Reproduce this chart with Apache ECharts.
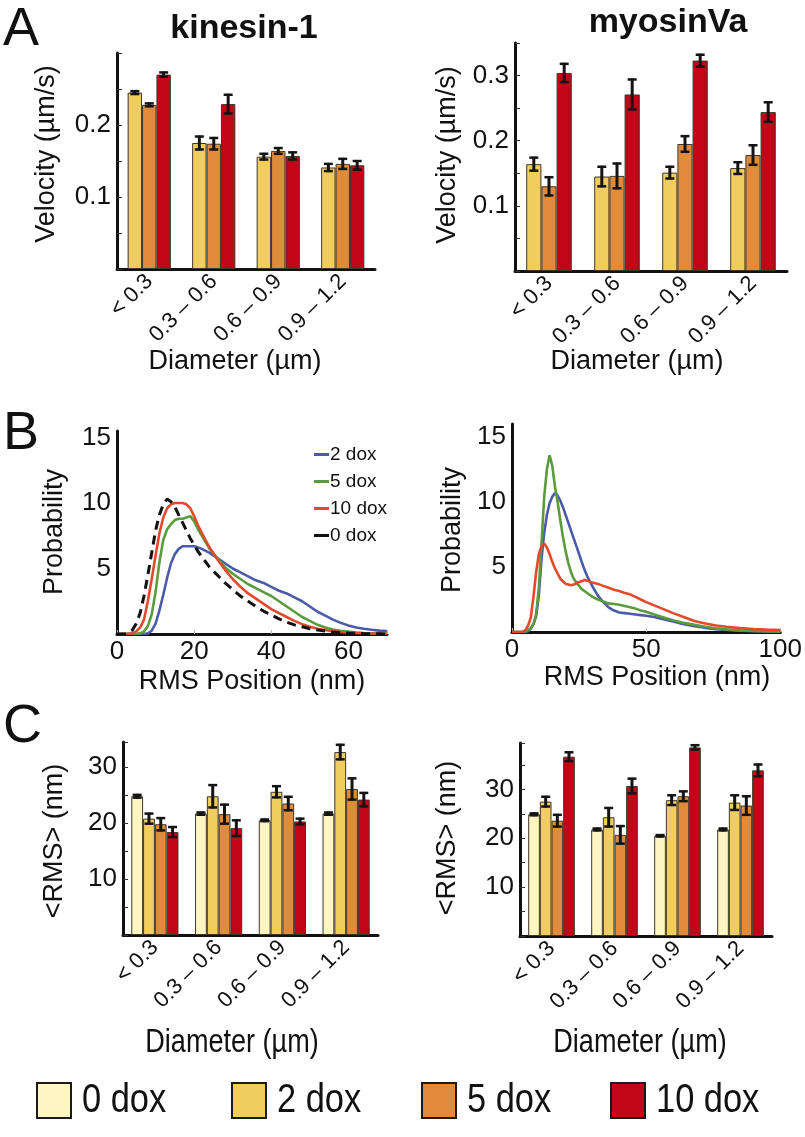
<!DOCTYPE html>
<html>
<head>
<meta charset="utf-8">
<script src="https://cdn.jsdelivr.net/npm/echarts@6/dist/echarts.min.js"></script>
<style>
  html, body { margin: 0; padding: 0; background: #fff; }
  #chart { width: 805px; height: 1137px; }
</style>
</head>
<body>
<div id="chart"></div>
<script>
// diameter bins, shared by panels A and C
var cats = ['< 0.3', '0.3 \u2013 0.6', '0.6 \u2013 0.9', '0.9 \u2013 1.2'];

// A: velocity (um/s), kinesin-1
var kinVel2 = [0.245, 0.175, 0.156, 0.141];
var kinVel5 = [0.228, 0.174, 0.164, 0.146];
var kinVel10 = [0.270, 0.229, 0.157, 0.144];
var kinVelErr2 = [0.002, 0.009, 0.004, 0.005];
var kinVelErr5 = [0.002, 0.008, 0.004, 0.007];
var kinVelErr10 = [0.003, 0.013, 0.005, 0.006];

// A: velocity (um/s), myosinVa
var myoVel2 = [0.164, 0.145, 0.151, 0.158];
var myoVel5 = [0.130, 0.146, 0.195, 0.178];
var myoVel10 = [0.304, 0.271, 0.323, 0.244];
var myoVelErr2 = [0.010, 0.015, 0.009, 0.009];
var myoVelErr5 = [0.014, 0.019, 0.012, 0.015];
var myoVelErr10 = [0.014, 0.023, 0.009, 0.015];

// B: RMS position distributions, kinesin-1
var rmsXL = [0, 2, 4, 5, 6, 7, 8, 9, 10, 11, 12, 13, 14, 15, 16, 17, 18, 19, 20, 21, 22, 24, 26, 28, 30, 32, 34, 36, 38, 40, 42, 44, 46, 48, 50, 52, 54, 56, 58, 60, 62, 64, 66, 68, 70];
var kinProb2 = [0, 0, 0, 0, 0, 0, 0.05, 0.25, 0.8, 1.8, 3.0, 4.3, 5.4, 6.1, 6.5, 6.7, 6.7, 6.7, 6.7, 6.6, 6.5, 6.2, 5.8, 5.4, 5.0, 4.7, 4.4, 4.1, 3.9, 3.6, 3.3, 3.1, 2.8, 2.5, 2.1, 1.7, 1.4, 1.1, 0.85, 0.65, 0.5, 0.4, 0.32, 0.26, 0.22];
var kinProb5 = [0, 0, 0, 0, 0.05, 0.2, 0.6, 1.5, 3.2, 5.5, 7.2, 8.0, 8.4, 8.7, 8.8, 8.8, 8.9, 9.0, 8.6, 8.0, 7.5, 6.5, 5.8, 5.1, 4.6, 4.2, 3.8, 3.5, 3.2, 2.9, 2.5, 2.1, 1.7, 1.3, 1.0, 0.7, 0.5, 0.35, 0.25, 0.18, 0.12, 0.08, 0.05, 0.03, 0.02];
var kinProb10 = [0, 0, 0.05, 0.2, 0.5, 1.1, 2.5, 4.2, 6.0, 7.7, 8.9, 9.6, 9.9, 10.0, 10.0, 10.0, 9.9, 9.6, 9.0, 8.3, 7.7, 6.6, 5.7, 4.9, 4.2, 3.6, 3.1, 2.7, 2.3, 1.9, 1.6, 1.3, 1.0, 0.75, 0.55, 0.4, 0.3, 0.2, 0.15, 0.1, 0.08, 0.06, 0.04, 0.03, 0.02];
var kinProb0 = [0, 0, 0.3, 0.8, 1.6, 2.9, 4.5, 6.2, 7.9, 9.1, 9.9, 10.3, 10.1, 9.7, 9.1, 8.5, 7.9, 7.3, 6.8, 6.3, 5.9, 5.1, 4.5, 3.9, 3.4, 2.9, 2.5, 2.1, 1.75, 1.45, 1.15, 0.9, 0.7, 0.55, 0.4, 0.3, 0.22, 0.15, 0.1, 0.07, 0.05, 0.03, 0.02, 0.01, 0];

// B: RMS position distributions, myosinVa
var rmsXR = [0, 2, 4, 5, 6, 7, 8, 9, 10, 11, 12, 13, 14, 15, 16, 17, 18, 19, 20, 21, 22, 23, 24, 25, 26, 27, 28, 30, 32, 34, 36, 38, 40, 42, 44, 46, 48, 50, 53, 56, 60, 64, 68, 72, 76, 80, 85, 90, 95, 100];
var myoProb2 = [0, 0, 0, 0, 0.05, 0.25, 0.6, 1.2, 2.8, 5.6, 7.6, 9.0, 9.9, 10.4, 10.7, 10.5, 10.1, 9.6, 9.0, 8.4, 7.8, 7.2, 6.6, 6.0, 5.4, 4.8, 4.3, 3.5, 2.8, 2.3, 1.9, 1.65, 1.5, 1.45, 1.4, 1.35, 1.3, 1.25, 1.15, 1.0, 0.8, 0.6, 0.45, 0.32, 0.22, 0.15, 0.1, 0.06, 0.04, 0.02];
var myoProb5 = [0, 0, 0, 0.05, 0.15, 0.3, 0.6, 1.4, 3.4, 6.8, 10.4, 12.5, 13.6, 12.8, 11.2, 10.0, 8.6, 7.3, 6.2, 5.3, 4.6, 4.1, 3.8, 3.55, 3.3, 3.15, 3.0, 2.7, 2.5, 2.35, 2.2, 2.15, 2.1, 2.0, 1.9, 1.8, 1.65, 1.55, 1.35, 1.15, 0.9, 0.7, 0.55, 0.4, 0.28, 0.2, 0.12, 0.08, 0.05, 0.03];
var myoProb10 = [0, 0, 0.02, 0.15, 0.5, 1.1, 2.7, 4.6, 6.0, 6.6, 6.8, 6.5, 6.0, 5.4, 4.9, 4.5, 4.1, 3.9, 3.7, 3.65, 3.6, 3.65, 3.75, 3.85, 3.9, 4.0, 3.95, 3.8, 3.7, 3.55, 3.4, 3.25, 3.15, 3.0, 2.9, 2.7, 2.5, 2.3, 2.05, 1.8, 1.45, 1.15, 0.85, 0.65, 0.5, 0.4, 0.3, 0.22, 0.18, 0.15];

// C: mean RMS (nm), kinesin-1
var kinRms0 = [24.8, 21.7, 20.5, 21.7];
var kinRms2 = [20.8, 24.8, 25.6, 32.7];
var kinRms5 = [19.8, 21.6, 23.5, 26.1];
var kinRms10 = [18.4, 19.1, 20.3, 24.2];
var kinRmsErr0 = [0.25, 0.2, 0.15, 0.2];
var kinRmsErr2 = [0.9, 2.0, 1.0, 1.3];
var kinRmsErr5 = [1.1, 1.7, 1.2, 1.9];
var kinRmsErr10 = [0.9, 1.4, 0.5, 1.2];

// C: mean RMS (nm), myosinVa
var myoRms0 = [24.9, 21.8, 20.5, 21.8];
var myoRms2 = [27.5, 24.3, 27.8, 27.3];
var myoRms5 = [23.6, 20.7, 28.6, 26.7];
var myoRms10 = [36.7, 30.7, 38.6, 33.9];
var myoRmsErr0 = [0.2, 0.2, 0.15, 0.2];
var myoRmsErr2 = [1.0, 1.9, 1.0, 1.5];
var myoRmsErr5 = [1.2, 1.8, 1.0, 1.9];
var myoRmsErr10 = [0.9, 1.5, 0.45, 1.2];

// tick labels that are printed
var velTicksKin = [0.1, 0.2];
var velTicksMyo = [0.1, 0.2, 0.3];
var probTicks = [5, 10, 15];
var rmsTicksKin = [0, 20, 40, 60];
var rmsTicksMyo = [0, 50, 100];
var meanRmsTicks = [10, 20, 30];

var doxNames = ['0 dox', '2 dox', '5 dox', '10 dox'];
var doxColors = { '0 dox': '#fdf6c3', '2 dox': '#f1cd60', '5 dox': '#df8b3b', '10 dox': '#c10617' };
var lineColors = { '2 dox': '#4c5ba8', '5 dox': '#5b9a3d', '10 dox': '#e24a2c', '0 dox': '#111111' };

var FONT = "'Liberation Sans', Arial, sans-serif";

var chart = echarts.init(document.getElementById('chart'), null, { renderer: 'canvas' });

function pickLabels(list) {
  return function (v) {
    for (var i = 0; i < list.length; i++) {
      if (Math.abs(list[i] - v) < 1e-9) return String(list[i]);
    }
    return '';
  };
}

function catAxis(gi) {
  return {
    type: 'category', gridIndex: gi, data: cats,
    axisLine: { lineStyle: { color: '#111', width: 3 } },
    axisTick: { show: false },
    axisLabel: { rotate: 45, interval: 0, margin: 9, fontSize: 22, color: '#111', fontFamily: FONT }
  };
}

function valAxis(gi, max, step, labels, withTicks) {
  return {
    type: 'value', gridIndex: gi, min: 0, max: max, interval: step,
    splitLine: { show: false },
    axisLine: { show: true, lineStyle: { color: '#111', width: 3 } },
    axisTick: { show: withTicks, inside: true, length: 5, lineStyle: { color: '#333', width: 1 } },
    axisLabel: { formatter: pickLabels(labels), fontSize: 26, color: '#111', margin: 6, fontFamily: FONT }
  };
}

function rmsAxis(gi, max, step, labels) {
  return {
    type: 'value', gridIndex: gi, min: 0, max: max, interval: step, splitLine: { show: false },
    axisLine: { lineStyle: { color: '#111', width: 3 } },
    axisTick: { inside: true, length: 4, lineStyle: { color: '#bbb' } },
    axisLabel: { formatter: pickLabels(labels), fontSize: 26, color: '#111', margin: 5, fontFamily: FONT }
  };
}

// bar series + matching error bar series for one panel
function barGroup(gi, names, values, errors, gap) {
  var out = [];
  var n = names.length;
  for (var k = 0; k < n; k++) {
    out.push({
      type: 'bar', name: names[k], xAxisIndex: gi, yAxisIndex: gi,
      data: values[k], barGap: '0%', barCategoryGap: gap,
      itemStyle: { color: doxColors[names[k]], borderColor: '#3f3728', borderWidth: 1 },
      silent: true
    });
  }
  var frac = parseFloat(gap) / 100;
  for (var k2 = 0; k2 < n; k2++) {
    var d = [];
    for (var i = 0; i < values[k2].length; i++) d.push([i, values[k2][i], errors[k2][i]]);
    out.push({
      type: 'custom', xAxisIndex: gi, yAxisIndex: gi, z: 5, silent: true,
      encode: { x: 0, y: 1 },
      data: d,
      renderItem: errRender(k2, n, frac)
    });
  }
  return out;
}

function errRender(idx, n, frac) {
  return function (params, api) {
    var c = api.value(0), v = api.value(1), e = api.value(2);
    var p = api.coord([c, v]);
    var band = api.size([1, 0])[0];
    var groupW = band * (1 - frac);
    var bw = groupW / n;
    var x = p[0] - groupW / 2 + bw * (idx + 0.5);
    var top = api.coord([c, v + e])[1];
    var bot = api.coord([c, v - e])[1];
    var cap = 4.5;
    var st = { stroke: '#141414', lineWidth: 3 };
    return {
      type: 'group',
      children: [
        { type: 'line', shape: { x1: x, y1: top - 1, x2: x, y2: bot + 1 }, style: st },
        { type: 'line', shape: { x1: x - cap, y1: top, x2: x + cap, y2: top }, style: { stroke: '#141414', lineWidth: 2.5 } },
        { type: 'line', shape: { x1: x - cap, y1: bot, x2: x + cap, y2: bot }, style: { stroke: '#141414', lineWidth: 2.5 } }
      ]
    };
  };
}

function pairs(xs, ys) {
  var d = [];
  for (var i = 0; i < xs.length; i++) d.push([xs[i], ys[i]]);
  return d;
}

function probLine(gi, name, xs, ys, dashed) {
  return {
    type: 'line', name: 'RMS ' + name, xAxisIndex: gi, yAxisIndex: gi,
    data: pairs(xs, ys), showSymbol: false, symbol: 'none', smooth: false, silent: true,
    itemStyle: { color: lineColors[name] },
    lineStyle: { color: lineColors[name], width: dashed ? 3 : 2.6, type: dashed ? [9, 6] : 'solid' },
    z: dashed ? 4 : 3
  };
}

function txt(x, y, text, size, opts) {
  opts = opts || {};
  return {
    type: 'text', x: x, y: y, rotation: opts.rot || 0, scaleX: opts.sx || 1, silent: true,
    style: {
      text: text, fill: '#111',
      font: (opts.bold ? 'bold ' : '') + size + 'px ' + FONT,
      textAlign: opts.align || 'center', textVerticalAlign: 'middle',
      align: opts.align || 'center', verticalAlign: 'middle'
    }
  };
}

var grids = [
  { left: 117, top: 53, width: 258, height: 216 },   // A kinesin
  { left: 515, top: 43, width: 272, height: 228 },   // A myosin
  { left: 117, top: 431, width: 270, height: 203 },  // B kinesin
  { left: 512, top: 424, width: 270, height: 208 },  // B myosin
  { left: 123, top: 742, width: 255, height: 193 },  // C kinesin
  { left: 520, top: 743, width: 252, height: 193 }   // C myosin
];

var xAxes = [catAxis(0), catAxis(1),
  rmsAxis(2, 70, 20, rmsTicksKin),
  rmsAxis(3, 100, 50, rmsTicksMyo),
  catAxis(4), catAxis(5)];

var yAxes = [
  valAxis(0, 0.3, 0.05, velTicksKin, true),
  valAxis(1, 0.35, 0.05, velTicksMyo, true),
  valAxis(2, 15.5, 5, probTicks, false),
  valAxis(3, 16, 5, probTicks, false),
  valAxis(4, 34.5, 5, meanRmsTicks, true),
  valAxis(5, 39.5, 5, meanRmsTicks, true)
];

var series = [].concat(
  barGroup(0, ['2 dox', '5 dox', '10 dox'], [kinVel2, kinVel5, kinVel10], [kinVelErr2, kinVelErr5, kinVelErr10], '33%'),
  barGroup(1, ['2 dox', '5 dox', '10 dox'], [myoVel2, myoVel5, myoVel10], [myoVelErr2, myoVelErr5, myoVelErr10], '33%'),
  [
    probLine(2, '2 dox', rmsXL, kinProb2),
    probLine(2, '5 dox', rmsXL, kinProb5),
    probLine(2, '10 dox', rmsXL, kinProb10),
    probLine(2, '0 dox', rmsXL, kinProb0, true),
    probLine(3, '2 dox', rmsXR, myoProb2),
    probLine(3, '5 dox', rmsXR, myoProb5),
    probLine(3, '10 dox', rmsXR, myoProb10)
  ],
  barGroup(4, doxNames, [kinRms0, kinRms2, kinRms5, kinRms10], [kinRmsErr0, kinRmsErr2, kinRmsErr5, kinRmsErr10], '26%'),
  barGroup(5, doxNames, [myoRms0, myoRms2, myoRms5, myoRms10], [myoRmsErr0, myoRmsErr2, myoRmsErr5, myoRmsErr10], '26%')
);

// texts of the figure
var graphics = [
  txt(3, 30, 'A', 54, { align: 'left' }),
  txt(3, 434, 'B', 54, { align: 'left' }),
  txt(3, 727, 'C', 54, { align: 'left' }),
  txt(244, 29, 'kinesin-1', 34, { bold: true }),
  txt(668, 23, 'myosinVa', 34, { bold: true }),
  txt(47, 154, 'Velocity (\u00b5m/s)', 27, { rot: Math.PI / 2 }),
  txt(448, 155, 'Velocity (\u00b5m/s)', 27, { rot: Math.PI / 2 }),
  txt(235, 362, 'Diameter (\u00b5m)', 27),
  txt(637, 362, 'Diameter (\u00b5m)', 27),
  txt(55, 532, 'Probability', 27, { rot: Math.PI / 2 }),
  txt(453, 530, 'Probability', 27, { rot: Math.PI / 2 }),
  txt(252, 682, 'RMS Position (nm)', 27),
  txt(657, 678, 'RMS Position (nm)', 27),
  txt(55, 841, '<RMS> (nm)', 27, { rot: Math.PI / 2 }),
  txt(448, 838, '<RMS> (nm)', 27, { rot: Math.PI / 2 }),
  txt(232, 1043, 'Diameter (\u00b5m)', 33, { sx: 0.82 }),
  txt(640, 1043, 'Diameter (\u00b5m)', 33, { sx: 0.82 })
];

// bottom colour key (condensed text like the figure)
var keyLeft = [37, 232, 422, 611];
for (var i = 0; i < doxNames.length; i++) {
  graphics.push({
    type: 'rect', silent: true,
    shape: { x: keyLeft[i], y: 1083, width: 34, height: 35 },
    style: { fill: doxColors[doxNames[i]], stroke: '#1a1a1a', lineWidth: 2 }
  });
  graphics.push(txt(keyLeft[i] + 45, 1101, doxNames[i], 40, { align: 'left', sx: 0.86 }));
}

var option = {
  backgroundColor: '#fff',
  animation: false,
  grid: grids,
  xAxis: xAxes,
  yAxis: yAxes,
  legend: [
    {
      data: ['RMS 2 dox', 'RMS 5 dox', 'RMS 10 dox', 'RMS 0 dox'],
      orient: 'vertical', left: 309, top: 440, icon: 'rect', itemWidth: 15, itemHeight: 3, itemGap: 8,
      formatter: function (name) { return name.replace('RMS ', ''); },
      textStyle: { fontSize: 19, color: '#111', fontFamily: FONT, padding: [0, 0, 0, -4] },
      selectedMode: false
    }
  ],
  graphic: graphics,
  series: series
};

chart.setOption(option);
</script>
</body>
</html>
